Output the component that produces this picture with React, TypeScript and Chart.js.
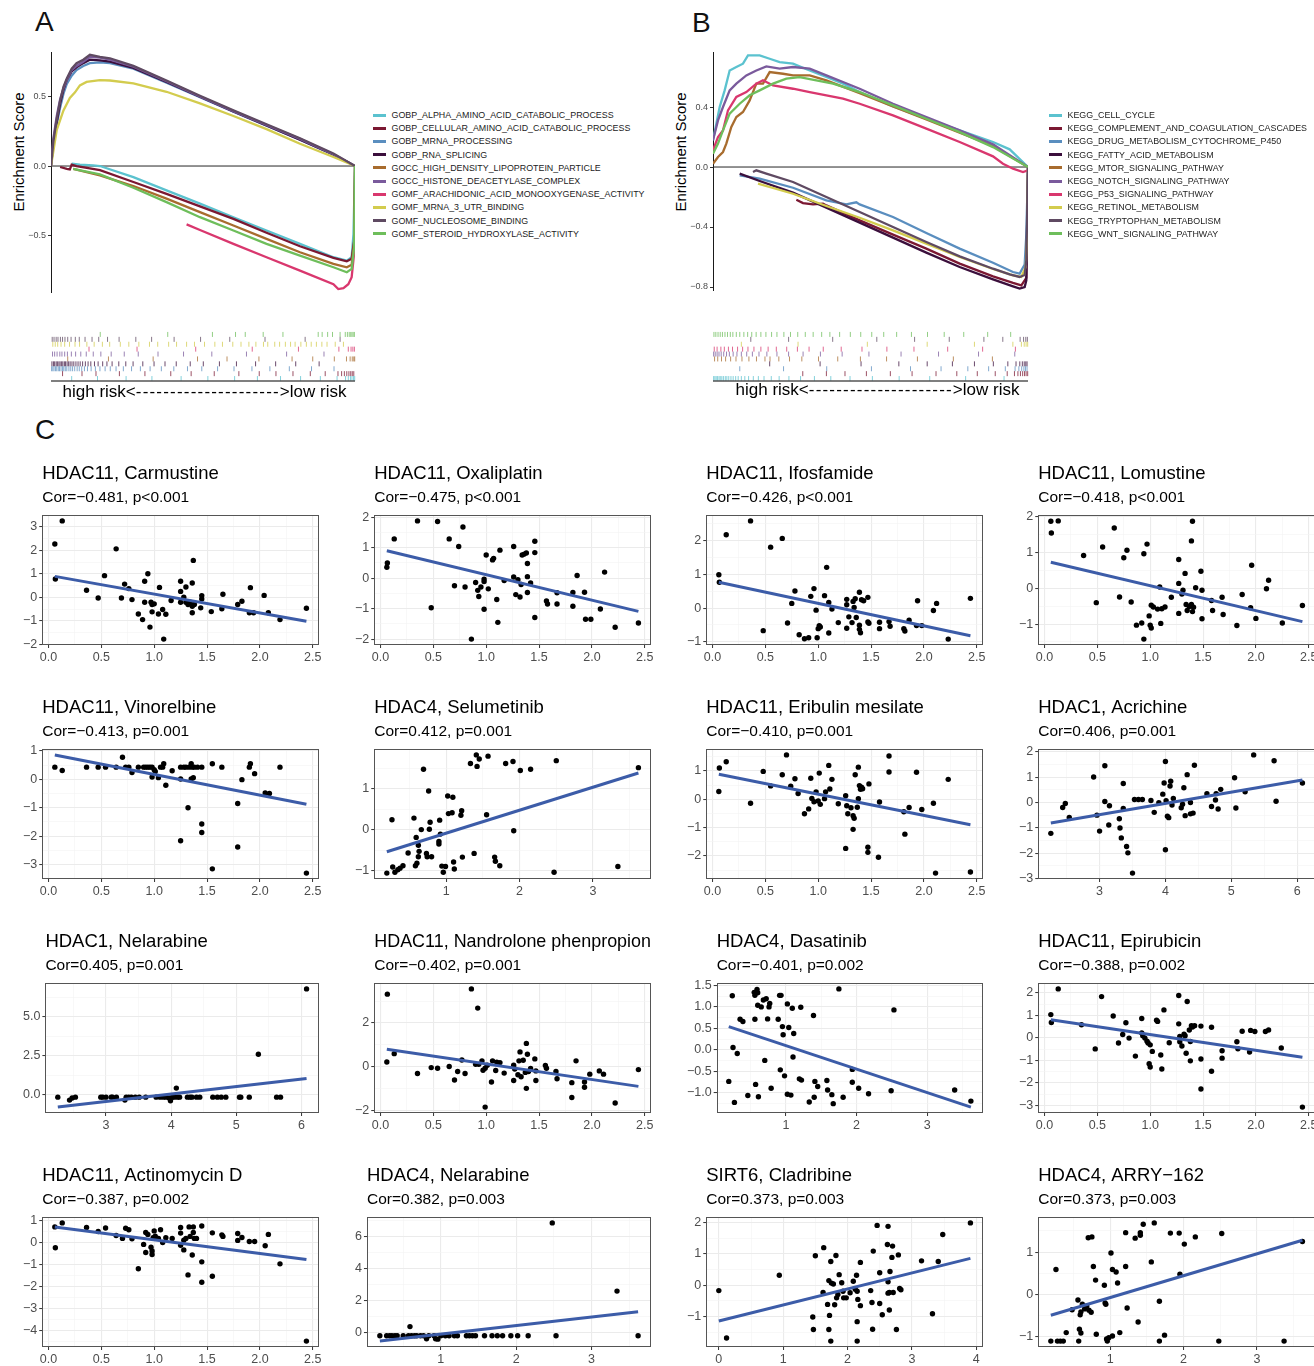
import React, { useEffect, useRef } from "react";
import { Chart, registerables } from "chart.js";
Chart.register(...registerables);

const FONT = '"Liberation Sans", Arial, Helvetica, sans-serif';
const MINUS = "\u2212";
const fmt = (s: string) => s.replace("-", MINUS);

// ---------- Panel A / B : gene set names and colours ----------
const setColors = ["#5BC2CF", "#7B1832", "#5A8EBF", "#3B0F3C", "#A86C2E", "#7A5A9C", "#D9376E", "#D3CC4E", "#5F4A62", "#6EBE5B"];
const goSets = [
  "GOBP_ALPHA_AMINO_ACID_CATABOLIC_PROCESS",
  "GOBP_CELLULAR_AMINO_ACID_CATABOLIC_PROCESS",
  "GOBP_MRNA_PROCESSING",
  "GOBP_RNA_SPLICING",
  "GOCC_HIGH_DENSITY_LIPOPROTEIN_PARTICLE",
  "GOCC_HISTONE_DEACETYLASE_COMPLEX",
  "GOMF_ARACHIDONIC_ACID_MONOOXYGENASE_ACTIVITY",
  "GOMF_MRNA_3_UTR_BINDING",
  "GOMF_NUCLEOSOME_BINDING",
  "GOMF_STEROID_HYDROXYLASE_ACTIVITY",
];
const keggSets = [
  "KEGG_CELL_CYCLE",
  "KEGG_COMPLEMENT_AND_COAGULATION_CASCADES",
  "KEGG_DRUG_METABOLISM_CYTOCHROME_P450",
  "KEGG_FATTY_ACID_METABOLISM",
  "KEGG_MTOR_SIGNALING_PATHWAY",
  "KEGG_NOTCH_SIGNALING_PATHWAY",
  "KEGG_P53_SIGNALING_PATHWAY",
  "KEGG_RETINOL_METABOLISM",
  "KEGG_TRYPTOPHAN_METABOLISM",
  "KEGG_WNT_SIGNALING_PATHWAY",
];

// running enrichment score, [rank % , ES]
const esA_alphaAmino = [[6.8, 0.017], [9.5, 0.01], [13.9, 0.005], [16.1, 0.0], [27.1, -0.08], [38.0, -0.175], [49.0, -0.27], [60.0, -0.368], [70.9, -0.464], [81.9, -0.56], [92.9, -0.656], [97.3, -0.68], [98.9, -0.655], [99.5, -0.49], [100, 0]];
const esA_cellAmino = [[3.0, -0.007], [5.2, -0.02], [6.2, -0.024], [6.8, 0.01], [8.4, 0.0], [16.1, -0.03], [27.1, -0.115], [38.0, -0.2], [49.0, -0.29], [60.0, -0.38], [70.9, -0.48], [81.9, -0.577], [92.9, -0.66], [97.3, -0.685], [98.9, -0.667], [99.7, -0.54], [100, 0]];
const esA_mrnaProc = [[0, 0], [0.8, 0.15], [1.9, 0.3], [3.0, 0.42], [4.1, 0.52], [5.2, 0.59], [6.8, 0.65], [8.4, 0.69], [10.6, 0.72], [12.8, 0.74], [16.1, 0.745], [19.4, 0.74], [27.1, 0.7], [38.0, 0.6], [49.0, 0.495], [60.0, 0.39], [70.9, 0.29], [81.9, 0.19], [92.9, 0.082], [100, 0]];
const esA_rnaSplice = [[0, 0], [0.8, 0.17], [1.9, 0.32], [3.0, 0.45], [4.1, 0.55], [5.2, 0.62], [6.8, 0.68], [8.4, 0.71], [10.6, 0.74], [12.8, 0.765], [16.1, 0.76], [19.4, 0.75], [27.1, 0.705], [38.0, 0.605], [49.0, 0.498], [60.0, 0.393], [70.9, 0.292], [81.9, 0.19], [92.9, 0.083], [100, 0]];
const esA_hdl = [[7.3, -0.02], [16.1, -0.067], [27.1, -0.144], [38.0, -0.235], [49.0, -0.332], [60.0, -0.428], [70.9, -0.524], [81.9, -0.62], [92.9, -0.704], [97.3, -0.728], [98.9, -0.71], [99.7, -0.56], [100, 0]];
const esA_histone = [[0, 0], [0.8, 0.2], [1.9, 0.36], [3.0, 0.48], [4.1, 0.56], [5.2, 0.62], [6.8, 0.69], [8.4, 0.72], [10.6, 0.75], [12.8, 0.785], [16.1, 0.78], [19.4, 0.765], [27.1, 0.715], [38.0, 0.61], [49.0, 0.5], [60.0, 0.395], [70.9, 0.295], [81.9, 0.195], [92.9, 0.085], [100, 0]];
const esA_arachidonic = [[44.6, -0.42], [49.0, -0.46], [60.0, -0.56], [70.9, -0.656], [81.9, -0.752], [92.9, -0.85], [94.5, -0.885], [96.2, -0.878], [97.8, -0.85], [98.9, -0.8], [99.7, -0.63], [100, -0.44]];
const esA_utr = [[0, 0], [1.9, 0.26], [4.1, 0.4], [6.2, 0.49], [7.9, 0.53], [9.5, 0.58], [11.7, 0.605], [16.1, 0.618], [19.4, 0.615], [27.1, 0.594], [38.0, 0.534], [49.0, 0.45], [60.0, 0.36], [70.9, 0.265], [81.9, 0.16], [92.9, 0.065], [100, 0]];
const esA_nucleosome = [[0, 0], [0.8, 0.18], [1.9, 0.34], [3.0, 0.47], [4.1, 0.57], [5.2, 0.63], [6.8, 0.7], [8.4, 0.74], [10.6, 0.765], [12.8, 0.8], [16.1, 0.785], [19.4, 0.775], [27.1, 0.72], [38.0, 0.615], [49.0, 0.505], [60.0, 0.4], [70.9, 0.3], [81.9, 0.2], [92.9, 0.09], [100, 0]];
const esA_steroid = [[7.3, -0.02], [16.1, -0.06], [27.1, -0.156], [38.0, -0.26], [49.0, -0.368], [60.0, -0.464], [70.9, -0.56], [81.9, -0.644], [92.9, -0.728], [97.3, -0.764], [98.9, -0.74], [99.7, -0.59], [100, 0]];

const esB_cellCycle = [[0, 0.178], [1.06, 0.289], [2.12, 0.4], [3.7, 0.511], [5.29, 0.644], [7.41, 0.667], [9.52, 0.689], [11.11, 0.744], [14.81, 0.744], [17.99, 0.722], [21.16, 0.7], [25.4, 0.689], [30.69, 0.644], [35.98, 0.6], [41.27, 0.556], [46.56, 0.5], [57.14, 0.404], [67.72, 0.322], [78.31, 0.244], [88.89, 0.167], [94.18, 0.118], [100, 0]];
const esB_complement = [[26.46, -0.218], [28.57, -0.24], [31.75, -0.249], [34.92, -0.244], [35.98, -0.256], [46.56, -0.356], [57.14, -0.451], [67.72, -0.544], [78.31, -0.644], [88.89, -0.729], [95.24, -0.773], [97.88, -0.789], [99.47, -0.74], [100, 0]];
const esB_drug = [[8.47, -0.056], [14.81, -0.078], [25.4, -0.138], [35.98, -0.222], [42.3, -0.249], [45.5, -0.235], [46.56, -0.249], [57.14, -0.333], [67.72, -0.44], [78.31, -0.544], [88.89, -0.638], [95.24, -0.7], [97.35, -0.711], [98.94, -0.65], [99.47, -0.45], [100, 0]];
const esB_fatty = [[8.47, -0.044], [14.81, -0.093], [25.4, -0.171], [35.98, -0.271], [46.56, -0.371], [57.14, -0.471], [67.72, -0.571], [78.31, -0.667], [88.89, -0.749], [95.24, -0.796], [97.35, -0.811], [98.94, -0.8], [99.47, -0.756], [100, 0]];
const esB_mtor = [[0, 0.022], [1.59, 0.067], [3.17, 0.1], [4.23, 0.156], [5.82, 0.267], [7.41, 0.333], [9.52, 0.367], [11.64, 0.444], [13.76, 0.556], [15.87, 0.556], [17.99, 0.633], [22.22, 0.622], [25.4, 0.611], [30.69, 0.611], [35.98, 0.578], [46.56, 0.493], [57.14, 0.404], [67.72, 0.318], [78.31, 0.229], [88.89, 0.14], [100, 0]];
const esB_notch = [[0, 0.178], [1.59, 0.311], [3.17, 0.4], [5.29, 0.511], [7.41, 0.556], [10.58, 0.611], [13.76, 0.644], [16.93, 0.671], [21.16, 0.656], [25.4, 0.667], [30.69, 0.656], [35.98, 0.611], [41.27, 0.567], [46.56, 0.522], [57.14, 0.422], [67.72, 0.333], [78.31, 0.244], [88.89, 0.151], [100, 0]];
const esB_p53 = [[0, 0.111], [1.59, 0.2], [3.17, 0.244], [4.76, 0.378], [7.41, 0.467], [10.58, 0.5], [13.76, 0.556], [15.87, 0.578], [19.05, 0.544], [25.4, 0.522], [30.69, 0.5], [35.98, 0.478], [41.27, 0.456], [46.56, 0.422], [57.14, 0.344], [67.72, 0.256], [78.31, 0.167], [88.89, 0.071], [92.06, 0.022], [95.24, -0.011], [98.41, -0.033], [100, -0.022]];
const esB_retinol = [[14.29, -0.111], [25.4, -0.178], [35.98, -0.26], [46.56, -0.338], [57.14, -0.422], [67.72, -0.511], [78.31, -0.6], [88.89, -0.68], [95.24, -0.722], [97.88, -0.733], [99.26, -0.667], [99.79, -0.444], [100, 0]];
const esB_tryptophan = [[12.7, -0.033], [13.76, -0.022], [16.93, -0.044], [25.4, -0.1], [35.98, -0.2], [46.56, -0.3], [57.14, -0.4], [67.72, -0.5], [78.31, -0.596], [88.89, -0.678], [94.18, -0.716], [97.35, -0.733], [98.94, -0.72], [99.47, -0.62], [100, 0]];
const esB_wnt = [[0, 0.089], [1.59, 0.156], [3.17, 0.244], [5.29, 0.356], [8.47, 0.422], [11.64, 0.478], [14.81, 0.511], [19.05, 0.556], [23.28, 0.589], [27.51, 0.6], [32.8, 0.578], [38.1, 0.556], [46.56, 0.5], [57.14, 0.411], [67.72, 0.322], [78.31, 0.233], [88.89, 0.133], [100, 0]];

// rug: positions (rank %) of the gene-set members
const rugA_alphaAmino = [6.8, 15.3, 24.7, 33.2, 42.8, 51.6, 60.4, 67.9, 75.5, 82.1, 88.6, 94.1, 96.9, 97.8, 98.5, 99.0, 99.5, 99.9];
const rugA_cellAmino = [3.8, 10.2, 14.8, 22.5, 30.9, 39.4, 46.1, 53.7, 61.8, 68.5, 74.0, 79.6, 85.3, 90.2, 94.4, 95.6, 96.5, 97.3, 98.0, 98.6, 99.1, 99.6];
const rugA_mrnaProc = [0.2, 0.6, 1.0, 1.5, 1.9, 2.4, 2.8, 3.3, 3.8, 4.2, 4.7, 5.2, 5.9, 6.5, 7.1, 7.8, 8.6, 9.3, 10.1, 11.0, 12.0, 13.2, 14.6, 16.1, 17.8, 19.5, 21.4, 23.8, 26.5, 29.4, 32.6, 36.3, 40.4, 44.9, 49.6, 54.8, 60.2, 66.1, 72.0, 78.4, 85.7, 93.1];
const rugA_rnaSplice = [0.3, 0.8, 1.2, 1.7, 2.1, 2.6, 3.0, 3.5, 3.9, 4.4, 4.8, 5.3, 5.8, 6.3, 6.9, 7.5, 8.2, 8.9, 9.6, 10.4, 11.3, 12.2, 13.1, 14.3, 15.5, 17.0, 18.4, 20.1, 22.3, 24.6, 27.0, 30.2, 33.9, 37.5, 41.2, 45.8, 50.1, 55.4, 61.0, 67.3, 73.9, 80.5, 88.2];
const rugA_hdl = [5.5, 18.9, 33.6, 48.2, 57.9, 68.4, 79.3, 86.1, 93.2, 97.2, 98.4, 99.1, 99.6, 99.9];
const rugA_histone = [0.5, 1.2, 2.0, 2.9, 3.6, 4.5, 5.4, 6.7, 8.1, 9.8, 11.6, 13.9, 16.4, 19.8, 24.1, 28.7, 35.2, 43.6, 52.9, 64.3, 77.5, 89.8];
const rugA_arachidonic = [12.5, 28.3, 47.6, 66.2, 81.4, 94.7, 97.8, 98.7, 99.3, 99.8];
const rugA_utr = [0.6, 1.4, 2.2, 3.3, 4.5, 6.1, 7.9, 9.4, 11.8, 14.2, 16.9, 19.3, 22.8, 25.6, 28.9, 32.4, 35.1, 38.7, 41.3, 44.6, 47.2, 50.5, 53.9, 56.4, 59.8, 62.5, 65.1, 67.4, 69.9, 71.3, 73.6, 75.2, 77.1, 78.8, 80.3, 82.2, 84.0, 85.6, 87.3, 89.1, 90.8, 93.5, 96.2];
const rugA_nucleosome = [0.4, 1.0, 1.7, 2.3, 3.1, 3.8, 4.6, 5.5, 6.6, 8.0, 9.3, 11.2, 13.5, 15.7, 18.6, 22.4, 27.9, 33.1, 40.5, 49.2, 58.8, 70.4, 83.6, 95.1];
const rugA_steroid = [16.2, 38.4, 53.1, 60.7, 63.9, 69.8, 76.3, 87.9, 89.2, 91.0, 92.6, 95.1, 96.8, 97.5, 98.1, 98.6, 99.0, 99.4, 99.8];

const rugB_cellCycle = [0.2, 0.6, 1.0, 1.4, 1.9, 2.3, 2.8, 3.3, 3.9, 4.4, 5.0, 5.7, 6.4, 7.2, 8.0, 9.0, 10.1, 11.3, 12.8, 14.4, 16.2, 18.5, 21.0, 24.1, 27.8, 32.2, 37.4, 43.5, 50.6, 59.1, 68.8, 80.2, 92.4];
const rugB_complement = [28.5, 36.0, 41.9, 48.7, 56.3, 63.2, 70.8, 77.4, 83.9, 89.6, 93.4, 95.7, 96.8, 97.6, 98.3, 98.9, 99.4, 99.9];
const rugB_drug = [8.5, 22.4, 36.1, 50.3, 62.7, 72.4, 80.9, 87.5, 92.8, 95.9, 97.1, 98.0, 98.7, 99.2, 99.7];
const rugB_fatty = [18.0, 34.0, 47.0, 59.0, 68.0, 76.0, 83.0, 89.0, 93.6, 96.2, 97.4, 98.2, 98.8, 99.3, 99.7];
const rugB_mtor = [0.5, 1.5, 2.7, 4.0, 5.6, 7.3, 9.2, 11.4, 13.8, 16.5, 18.1, 20.9, 24.3, 28.2, 33.5, 39.6, 46.8, 55.1, 64.9, 76.3, 88.7];
const rugB_notch = [0.2, 0.7, 1.3, 1.9, 2.6, 3.4, 4.3, 5.2, 6.4, 7.6, 9.0, 10.7, 12.5, 14.6, 17.1, 20.3, 24.0, 28.6, 34.1, 41.0, 49.5, 59.7, 71.6, 84.3, 95.8];
const rugB_p53 = [0.4, 1.3, 2.5, 3.6, 4.9, 6.2, 7.8, 9.4, 11.1, 13.0, 15.2, 17.5, 20.1, 23.4, 26.8, 30.5, 35.0, 40.7, 47.3, 55.2, 63.8, 74.5, 85.6, 96.0];
const rugB_retinol = [9.0, 27.0, 49.0, 68.0, 83.0, 95.2, 97.9, 98.8, 99.4, 99.9];
const rugB_tryptophan = [12.0, 24.0, 38.0, 52.0, 64.0, 75.0, 86.0, 92.0, 97.5, 98.6, 99.3, 99.8];
const rugB_wnt = [0.3, 0.9, 1.6, 2.3, 3.0, 3.8, 4.6, 5.5, 6.3, 7.4, 8.5, 9.8, 11.0, 12.3, 13.7, 15.2, 16.8, 18.6, 20.3, 22.5, 24.6, 26.9, 29.3, 31.8, 34.5, 37.1, 40.2, 43.6, 46.9, 50.4, 54.2, 58.3, 63.0, 68.1, 73.4, 79.6, 87.2, 94.5];

const esA = [esA_alphaAmino, esA_cellAmino, esA_mrnaProc, esA_rnaSplice, esA_hdl, esA_histone, esA_arachidonic, esA_utr, esA_nucleosome, esA_steroid];
const esB = [esB_cellCycle, esB_complement, esB_drug, esB_fatty, esB_mtor, esB_notch, esB_p53, esB_retinol, esB_tryptophan, esB_wnt];
const rugA = [rugA_alphaAmino, rugA_cellAmino, rugA_mrnaProc, rugA_rnaSplice, rugA_hdl, rugA_histone, rugA_arachidonic, rugA_utr, rugA_nucleosome, rugA_steroid];
const rugB = [rugB_cellCycle, rugB_complement, rugB_drug, rugB_fatty, rugB_mtor, rugB_notch, rugB_p53, rugB_retinol, rugB_tryptophan, rugB_wnt];
const esTicksA = ["-0.5", "0.0", "0.5"];
const esTicksB = ["-0.8", "-0.4", "0.0", "0.4"];

// ---------- Panel C : drug sensitivity scatter data [expression, IC50 z] ----------
const xTicksHDAC11 = ["0.0", "0.5", "1.0", "1.5", "2.0", "2.5"];
const xTicksHDAC4 = ["1", "2", "3"];
const xTicksHDAC1 = ["3", "4", "5", "6"];
const xTicksSIRT6 = ["0", "1", "2", "3", "4"];

const carmustinePts = [[0.06, 2.27], [0.065, 0.78], [0.13, 3.25], [0.36, 0.3], [0.47, -0.03], [0.53, 0.92], [0.64, 2.06], [0.69, -0.03], [0.72, 0.56], [0.76, 0.37], [0.79, -0.1], [0.85, -0.71], [0.89, -0.95], [0.91, 0.68], [0.91, -0.21], [0.94, 1.0], [0.96, -1.27], [0.97, -0.21], [0.98, -0.62], [0.98, -0.31], [1.0, -0.28], [1.04, -0.71], [1.05, 0.42], [1.08, -0.52], [1.09, -1.78], [1.11, -0.72], [1.16, -0.14], [1.25, 0.68], [1.25, 0.25], [1.25, -0.21], [1.28, 0.0], [1.3, 0.44], [1.3, -0.21], [1.32, -0.31], [1.34, -0.21], [1.36, 0.61], [1.36, -0.38], [1.36, -0.66], [1.37, 1.57], [1.38, -0.31], [1.44, -0.45], [1.45, 0.07], [1.45, -0.07], [1.54, -0.61], [1.64, -0.49], [1.65, 0.13], [1.79, -0.31], [1.83, -0.17], [1.9, -0.66], [1.91, 0.41], [1.94, -0.66], [2.04, 0.08], [2.08, -0.66], [2.19, -0.95], [2.44, -0.47]];
const carmustineFit = [0.89, -1.02];
const oxaliplatinPts = [[0.06, 0.36], [0.065, 0.5], [0.13, 1.29], [0.35, 1.88], [0.48, -0.97], [0.54, 1.86], [0.65, 1.29], [0.7, -0.25], [0.74, 1.04], [0.78, 1.68], [0.8, -0.29], [0.86, -2.0], [0.9, -0.14], [0.92, -0.4], [0.93, -0.6], [0.95, -0.29], [0.98, -0.03], [0.98, -0.11], [1.0, 0.76], [0.98, -1.02], [1.02, -0.35], [1.06, 0.6], [1.07, 0.65], [1.1, -0.7], [1.11, -1.45], [1.13, 0.92], [1.17, -0.08], [1.26, 1.04], [1.26, 0.04], [1.28, -0.54], [1.3, -0.05], [1.32, -0.62], [1.33, -0.21], [1.34, 0.76], [1.36, 0.79], [1.38, 0.83], [1.39, -0.47], [1.39, 0.48], [1.39, 0.05], [1.42, -0.16], [1.46, 0.84], [1.46, 1.21], [1.46, -1.29], [1.57, -0.75], [1.58, -0.85], [1.67, -0.48], [1.67, -0.85], [1.82, -0.92], [1.82, -0.47], [1.86, 0.09], [1.93, -0.46], [1.94, -1.35], [1.99, -1.35], [2.08, -1.01], [2.12, 0.2], [2.22, -1.61], [2.44, -1.47]];
const oxaliplatinFit = [0.9, -1.09];
const ifosfamidePts = [[0.06, 0.99], [0.065, 0.77], [0.13, 2.18], [0.36, 2.59], [0.48, -0.67], [0.55, 1.81], [0.66, 2.07], [0.71, -0.44], [0.75, 0.14], [0.78, 0.51], [0.82, -0.79], [0.87, -0.91], [0.91, -0.88], [0.93, 0.35], [0.96, 0.58], [0.98, -0.06], [0.99, -0.88], [1.0, -0.61], [1.01, -0.52], [1.02, -0.56], [1.06, 0.37], [1.08, 1.21], [1.1, 0.17], [1.1, -0.74], [1.13, -0.03], [1.19, -0.43], [1.27, 0.26], [1.27, -0.6], [1.27, 0.1], [1.29, -0.26], [1.32, -0.43], [1.33, 0.2], [1.34, 0.02], [1.35, 0.28], [1.36, -0.28], [1.39, -0.51], [1.39, 0.47], [1.39, -0.63], [1.4, -0.73], [1.41, 0.25], [1.43, 0.22], [1.47, 0.32], [1.47, -0.41], [1.48, -0.45], [1.58, -0.42], [1.58, -0.61], [1.67, -0.4], [1.68, -0.54], [1.81, -0.61], [1.82, -0.68], [1.86, -0.36], [1.93, -0.52], [1.94, 0.22], [1.98, -0.52], [2.09, -0.07], [2.12, 0.14], [2.23, -0.92], [2.44, 0.29]];
const ifosfamideFit = [0.77, -0.82];
const lomustinePts = [[0.06, 1.88], [0.065, 1.55], [0.13, 1.89], [0.37, 0.92], [0.49, -0.4], [0.55, 1.16], [0.66, 1.69], [0.71, -0.24], [0.75, 0.86], [0.78, 1.07], [0.82, -0.38], [0.87, -1.03], [0.92, -0.97], [0.94, -1.42], [0.94, 0.97], [0.97, 1.24], [0.99, -0.77], [1.0, -1.03], [1.01, -1.11], [1.01, -0.47], [1.03, -0.52], [1.07, -0.58], [1.09, 0.04], [1.1, -0.98], [1.11, -0.57], [1.14, -0.52], [1.2, -0.25], [1.27, 0.81], [1.27, 0.14], [1.27, -0.7], [1.3, -0.16], [1.31, -0.05], [1.33, 0.42], [1.34, -0.45], [1.35, -0.62], [1.37, -0.51], [1.39, 1.33], [1.39, -0.45], [1.4, -0.65], [1.4, 1.88], [1.41, -0.53], [1.43, 0.02], [1.48, 0.48], [1.49, -0.05], [1.49, -0.85], [1.58, -0.34], [1.59, -0.62], [1.68, -0.25], [1.69, -0.73], [1.82, -1.04], [1.87, -0.17], [1.95, -0.54], [1.96, 0.65], [2.0, -0.84], [2.1, -0.01], [2.12, 0.23], [2.25, -0.97], [2.44, -0.48]];
const lomustineFit = [0.73, -0.93];
const vinorelbinePts = [[0.06, 0.43], [0.13, 0.31], [0.36, 0.43], [0.47, 0.43], [0.54, 0.43], [0.64, 0.43], [0.7, 0.78], [0.73, 0.43], [0.76, 0.43], [0.79, 0.24], [0.85, 0.43], [0.9, 0.43], [0.92, 0.43], [0.94, 0.43], [0.96, 0.43], [0.98, 0.08], [0.98, 0.43], [1.0, 0.34], [1.01, 0.28], [1.04, 0.06], [1.06, 0.43], [1.08, 0.43], [1.09, 0.55], [1.11, -0.21], [1.17, 0.3], [1.25, 0.01], [1.25, 0.43], [1.25, -2.16], [1.28, 0.43], [1.3, 0.43], [1.32, -1.0], [1.33, 0.43], [1.35, 0.01], [1.35, 0.55], [1.36, 0.43], [1.37, 0.06], [1.38, 0.43], [1.41, 0.43], [1.45, -1.87], [1.45, -1.57], [1.45, 0.43], [1.55, -3.15], [1.55, 0.55], [1.64, 0.43], [1.79, -0.85], [1.79, -2.38], [1.83, -0.01], [1.9, 0.43], [1.91, 0.55], [1.95, 0.2], [2.05, -0.48], [2.09, -0.5], [2.19, 0.43], [2.44, -3.3]];
const vinorelbineFit = [0.86, -0.88];
const selumetinibPts = [[0.19, -1.05], [0.26, 0.25], [0.27, -0.9], [0.3, -1.03], [0.34, -0.97], [0.37, -0.93], [0.41, -0.87], [0.48, -0.56], [0.56, 0.29], [0.58, -0.87], [0.59, -0.18], [0.6, -0.81], [0.62, -0.37], [0.62, -0.65], [0.63, -0.52], [0.66, 0.01], [0.69, 1.48], [0.73, -0.57], [0.74, -0.65], [0.76, 0.95], [0.77, 0.02], [0.78, 0.19], [0.8, -0.65], [0.91, 0.24], [0.9, -0.34], [0.9, -0.28], [0.92, -0.1], [0.94, -0.88], [0.96, -1.03], [0.99, -0.89], [1.02, 0.83], [1.03, 0.4], [1.08, 0.42], [1.09, 0.8], [1.1, -0.78], [1.11, -0.95], [1.2, 0.36], [1.21, 0.47], [1.22, -0.66], [1.33, 1.62], [1.38, -0.57], [1.41, 1.83], [1.42, 1.55], [1.45, 1.73], [1.55, 0.37], [1.57, 1.8], [1.66, -0.66], [1.67, -0.76], [1.73, -0.87], [1.81, 1.62], [1.91, 1.67], [1.92, -0.02], [2.01, 1.45], [2.15, 1.48], [2.47, -1.03], [2.5, 1.69], [3.34, -0.89], [3.62, 1.52]];
const selumetinibFit = [-0.53, 1.39];
const eribulinPts = [[0.06, 0.27], [0.065, 1.1], [0.13, 1.32], [0.36, -0.14], [0.48, 0.98], [0.55, 0.47], [0.66, 0.86], [0.7, 1.56], [0.74, 0.46], [0.78, 0.72], [0.81, 0.2], [0.87, -0.51], [0.91, -0.34], [0.93, 0.74], [0.94, 0.03], [0.96, -0.09], [0.98, 0.26], [1.0, -0.06], [1.01, 0.92], [1.02, -0.18], [1.06, 0.02], [1.07, 0.26], [1.1, 1.19], [1.11, 0.36], [1.13, 0.7], [1.19, -0.16], [1.26, 0.12], [1.26, -1.73], [1.27, -0.23], [1.28, -0.51], [1.31, -0.3], [1.33, -0.58], [1.33, -1.06], [1.34, -0.67], [1.35, 0.86], [1.37, -0.28], [1.38, 1.13], [1.38, 0.02], [1.39, 0.48], [1.4, 0.35], [1.41, 0.42], [1.42, 0.37], [1.47, -1.87], [1.47, -1.69], [1.48, 0.54], [1.57, -2.04], [1.58, -0.1], [1.67, 0.96], [1.67, 1.52], [1.81, -0.44], [1.82, -1.23], [1.86, -0.29], [1.93, 0.95], [1.98, -0.36], [2.09, -0.14], [2.11, -2.6], [2.23, 0.7], [2.44, -2.56]];
const eribulinFit = [0.88, -0.9];
const acrichinePts = [[2.26, -1.22], [2.44, -0.2], [2.48, -0.04], [2.54, -0.59], [2.91, 1.01], [2.96, -0.5], [3.0, -1.13], [3.08, 1.45], [3.08, 0.04], [3.14, -0.89], [3.15, -0.13], [3.3, -0.64], [3.31, -1.01], [3.33, -1.4], [3.36, -0.24], [3.36, 0.75], [3.41, -1.74], [3.43, -1.99], [3.5, -2.79], [3.53, 0.12], [3.59, 0.12], [3.65, 0.12], [3.78, 0.08], [3.83, -0.39], [3.9, -0.01], [3.96, 0.33], [3.98, 0.77], [4.0, 1.62], [4.0, -1.87], [4.01, 0.07], [4.03, -0.54], [4.05, -0.6], [4.07, 0.65], [4.08, 0.84], [4.1, -0.1], [4.12, 0.16], [4.24, -0.21], [4.26, -0.07], [4.28, 0.58], [4.3, -0.52], [4.33, 1.1], [4.38, 0.0], [4.38, -0.45], [4.44, 1.47], [4.42, -0.42], [4.63, 0.35], [4.7, -0.16], [4.76, 0.1], [4.77, 0.35], [4.8, -0.26], [4.84, 0.52], [5.05, 0.98], [5.07, -0.22], [5.21, 0.42], [5.34, 1.88], [5.65, 1.65], [5.68, 0.05], [6.08, 0.77]];
const acrichineFit = [-0.81, 0.89];
const nelarabine1Pts = [[2.26, -0.15], [2.44, -0.34], [2.48, -0.21], [2.53, -0.15], [2.92, -0.15], [2.95, -0.15], [3.0, -0.15], [3.08, -0.15], [3.1, -0.15], [3.16, -0.15], [3.29, -0.34], [3.31, -0.15], [3.35, -0.15], [3.39, -0.15], [3.45, -0.15], [3.51, -0.15], [3.61, -0.15], [3.77, -0.15], [3.83, -0.15], [3.88, -0.15], [3.92, -0.15], [3.97, -0.21], [3.99, -0.38], [4.02, -0.15], [4.05, -0.15], [4.08, 0.43], [4.1, -0.15], [4.13, -0.15], [4.25, -0.15], [4.29, -0.15], [4.32, -0.15], [4.39, -0.15], [4.44, -0.15], [4.64, -0.15], [4.71, -0.15], [4.77, -0.15], [4.84, -0.15], [5.05, -0.15], [5.07, -0.15], [5.2, -0.15], [5.34, 2.6], [5.62, -0.15], [5.68, -0.15], [6.08, 6.8]];
const nelarabine1Fit = [-0.79, 1.04];
const nandrolonePts = [[0.06, 0.21], [0.065, 3.32], [0.13, 0.59], [0.35, -0.32], [0.48, -0.05], [0.54, -0.08], [0.65, 0.0], [0.7, -0.62], [0.73, -0.23], [0.77, 0.3], [0.8, -0.32], [0.86, 3.56], [0.9, 0.1], [0.92, 2.68], [0.93, 0.1], [0.96, 0.26], [0.97, -0.17], [0.99, -1.86], [0.99, -0.08], [1.01, 0.06], [1.05, -0.71], [1.06, 0.26], [1.09, -0.18], [1.1, 0.2], [1.13, 0.18], [1.17, -0.3], [1.26, 0.06], [1.26, -0.64], [1.27, -0.11], [1.3, -0.38], [1.31, 0.26], [1.32, 0.67], [1.33, -0.47], [1.35, 0.29], [1.37, -0.27], [1.38, -1.0], [1.38, 1.06], [1.39, 0.56], [1.4, -0.23], [1.42, -0.09], [1.46, 0.35], [1.47, -0.2], [1.47, -0.64], [1.56, 0.05], [1.57, -0.08], [1.66, -0.23], [1.67, -0.56], [1.81, -0.74], [1.81, -1.42], [1.85, 0.26], [1.93, -0.71], [1.93, -0.95], [1.98, -0.35], [2.07, -0.2], [2.11, -0.35], [2.22, -1.67], [2.44, -0.14]];
const nandroloneFit = [0.79, -0.91];
const dasatinibPts = [[0.19, -0.74], [0.24, 1.26], [0.25, 0.05], [0.27, -1.23], [0.31, -0.09], [0.35, 0.71], [0.39, 0.66], [0.46, -1.07], [0.55, 1.34], [0.56, 0.71], [0.56, 1.27], [0.57, -0.81], [0.59, 1.41], [0.6, 1.04], [0.6, 1.33], [0.61, -1.1], [0.65, 1.0], [0.68, 1.16], [0.7, -0.25], [0.72, 1.19], [0.74, 0.72], [0.76, 1.0], [0.77, 1.08], [0.79, -0.9], [0.89, 0.71], [0.91, 1.27], [0.92, -0.47], [0.93, 1.27], [0.95, 0.54], [0.96, 0.35], [0.98, -0.61], [1.02, 1.07], [1.02, -1.04], [1.04, 0.52], [1.07, -1.06], [1.09, 0.97], [1.1, -0.17], [1.11, 0.38], [1.19, -0.68], [1.22, -0.71], [1.21, 0.99], [1.39, 0.8], [1.41, -0.74], [1.45, -0.86], [1.33, -1.22], [1.4, -1.11], [1.58, -0.72], [1.59, -0.94], [1.65, -1.05], [1.67, -1.26], [1.75, 1.42], [1.81, -1.11], [1.94, -0.46], [1.94, -0.76], [2.03, -0.9], [2.17, -1.03], [2.49, -0.96], [2.53, 0.93], [3.39, -0.94], [3.62, -1.2]];
const dasatinibFit = [0.54, -1.34];
const epirubicinPts = [[0.06, 1.03], [0.065, 0.68], [0.13, 2.17], [0.35, 0.58], [0.48, -0.49], [0.54, 1.83], [0.65, 0.97], [0.7, -0.23], [0.74, 0.15], [0.77, 0.67], [0.8, -0.01], [0.86, -0.81], [0.92, 0.22], [0.92, 0.86], [0.93, 0.09], [0.95, -0.01], [0.97, -0.15], [0.98, -0.23], [0.99, -1.15], [1.0, -1.29], [1.0, -0.31], [1.02, -0.6], [1.06, 0.78], [1.07, 0.73], [1.1, -0.76], [1.11, -1.38], [1.13, 1.24], [1.18, -0.22], [1.27, 1.88], [1.27, 0.62], [1.28, 0.06], [1.28, -0.17], [1.3, -0.36], [1.32, 0.16], [1.33, 0.09], [1.34, -0.68], [1.35, 1.61], [1.37, 0.35], [1.38, -0.16], [1.38, -1.02], [1.39, 0.54], [1.4, 0.48], [1.42, 0.54], [1.48, 0.52], [1.48, -0.94], [1.48, -2.27], [1.58, 0.47], [1.58, -1.48], [1.68, -0.57], [1.68, -0.9], [1.82, -0.17], [1.83, -0.48], [1.87, 0.29], [1.94, -0.63], [1.95, 0.33], [1.99, 0.28], [2.09, 0.28], [2.12, 0.35], [2.24, -0.45], [2.44, -3.07]];
const epirubicinFit = [0.8, -0.86];
const actinomycinPts = [[0.06, 0.7], [0.065, -0.24], [0.13, 0.88], [0.36, 0.67], [0.47, 0.49], [0.54, 0.65], [0.64, 0.31], [0.7, 0.18], [0.73, 0.64], [0.76, 0.57], [0.79, 0.16], [0.85, -1.19], [0.9, -0.09], [0.92, -0.46], [0.92, 0.45], [0.94, 0.36], [0.97, -0.22], [0.98, -0.39], [0.98, -0.55], [0.99, 0.21], [1.0, 0.52], [1.01, 0.28], [1.04, 0.18], [1.06, 0.57], [1.08, -0.01], [1.11, 0.21], [1.17, 0.18], [1.25, -0.13], [1.25, 0.67], [1.25, 0.42], [1.28, 0.1], [1.28, -0.34], [1.3, 0.18], [1.32, -1.47], [1.33, 0.7], [1.34, 0.27], [1.36, -0.57], [1.37, 0.7], [1.37, 0.45], [1.38, 0.18], [1.4, 0.18], [1.45, -0.88], [1.45, -1.8], [1.45, 0.74], [1.55, -1.53], [1.55, 0.43], [1.64, 0.34], [1.65, 0.27], [1.79, 0.4], [1.79, 0.09], [1.83, 0.22], [1.9, 0.04], [1.95, 0.04], [2.05, -0.15], [2.08, 0.36], [2.19, -0.97], [2.44, -4.46]];
const actinomycinFit = [0.7, -0.77];
const nelarabine4Pts = [[0.19, -0.18], [0.28, -0.18], [0.32, -0.18], [0.35, -0.18], [0.39, -0.18], [0.42, -0.18], [0.5, -0.18], [0.57, -0.18], [0.59, 0.39], [0.61, -0.18], [0.65, -0.18], [0.68, -0.18], [0.73, -0.18], [0.77, -0.18], [0.81, -0.37], [0.84, -0.18], [0.91, -0.18], [0.93, -0.37], [0.96, -0.39], [1.0, -0.18], [1.06, -0.18], [1.11, -0.18], [1.18, -0.18], [1.22, -0.18], [1.34, -0.18], [1.38, -0.18], [1.42, -0.18], [1.46, -0.18], [1.58, -0.18], [1.68, -0.18], [1.75, -0.18], [1.82, -0.18], [1.93, -0.18], [2.02, -0.18], [2.16, -0.18], [2.48, 6.82], [2.53, -0.18], [3.34, 2.59], [3.62, -0.18]];
const nelarabine4Fit = [-0.51, 1.31];
const cladribinePts = [[0.0, -0.17], [0.12, -1.68], [0.94, 0.32], [1.46, -1.01], [1.47, -1.41], [1.5, 0.94], [1.62, -0.23], [1.63, 1.2], [1.69, -0.61], [1.71, 0.15], [1.71, -1.41], [1.72, -0.96], [1.74, -1.78], [1.74, 0.76], [1.75, 0.07], [1.78, 0.04], [1.8, -0.62], [1.82, 0.95], [1.83, -0.4], [1.85, -0.29], [1.87, 0.34], [1.91, 0.08], [1.93, -0.19], [1.94, -0.4], [1.98, -0.4], [2.04, -0.24], [2.09, 0.13], [2.12, -0.13], [2.14, 0.32], [2.15, -1.16], [2.15, -1.78], [2.15, -0.19], [2.16, -0.45], [2.2, 0.73], [2.2, -0.65], [2.36, -0.17], [2.38, -0.55], [2.39, -1.4], [2.4, 1.09], [2.46, 1.91], [2.5, 0.4], [2.5, -0.58], [2.54, -0.94], [2.63, 1.88], [2.62, 1.3], [2.63, 0.11], [2.63, -0.25], [2.65, -0.23], [2.65, -0.79], [2.66, 0.44], [2.69, 0.89], [2.7, 1.25], [2.71, -0.23], [2.76, -1.41], [2.79, 0.97], [2.81, -0.1], [2.83, -0.14], [3.15, 0.78], [3.32, -0.91], [3.41, 0.76], [3.48, 1.62], [3.91, 1.99]];
const cladribineFit = [-1.14, 0.86];
const arryPts = [[0.19, -1.1], [0.26, 0.59], [0.28, -1.1], [0.32, -1.1], [0.36, -1.1], [0.4, -0.9], [0.48, -0.36], [0.56, -0.13], [0.57, -1.1], [0.58, -0.82], [0.59, -0.48], [0.6, -0.41], [0.6, -0.91], [0.62, -0.23], [0.65, -0.34], [0.68, -0.27], [0.7, 1.34], [0.71, -0.37], [0.74, -0.42], [0.75, 1.36], [0.77, 0.66], [0.8, 0.34], [0.81, -0.94], [0.92, 0.22], [0.93, -0.2], [0.94, -0.23], [0.95, -1.05], [0.96, -1.1], [0.98, -1.02], [1.01, 0.98], [1.03, -0.98], [1.03, 0.59], [1.08, 0.53], [1.1, 0.27], [1.13, -0.9], [1.21, 0.66], [1.21, 1.46], [1.23, -0.32], [1.34, 1.33], [1.38, -0.65], [1.41, 1.46], [1.41, 1.4], [1.45, 1.66], [1.56, 0.77], [1.6, 1.69], [1.67, -0.16], [1.67, -1.1], [1.74, -0.96], [1.82, 1.45], [1.94, 1.45], [1.95, 0.48], [2.01, 1.19], [2.16, 1.36], [2.48, -1.1], [2.52, 1.44], [3.37, -1.1], [3.62, 1.25]];
const arryFit = [-0.49, 1.28];

const scatterSpecs = [
  { title: "HDAC11, Carmustine", sub: "Cor=-0.481, p<0.001", pts: carmustinePts, fit: carmustineFit, xt: xTicksHDAC11, yt: ["-2", "-1", "0", "1", "2", "3"] },
  { title: "HDAC11, Oxaliplatin", sub: "Cor=-0.475, p<0.001", pts: oxaliplatinPts, fit: oxaliplatinFit, xt: xTicksHDAC11, yt: ["-2", "-1", "0", "1", "2"] },
  { title: "HDAC11, Ifosfamide", sub: "Cor=-0.426, p<0.001", pts: ifosfamidePts, fit: ifosfamideFit, xt: xTicksHDAC11, yt: ["-1", "0", "1", "2"] },
  { title: "HDAC11, Lomustine", sub: "Cor=-0.418, p<0.001", pts: lomustinePts, fit: lomustineFit, xt: xTicksHDAC11, yt: ["-1", "0", "1", "2"] },
  { title: "HDAC11, Vinorelbine", sub: "Cor=-0.413, p=0.001", pts: vinorelbinePts, fit: vinorelbineFit, xt: xTicksHDAC11, yt: ["-3", "-2", "-1", "0", "1"] },
  { title: "HDAC4, Selumetinib", sub: "Cor=0.412, p=0.001", pts: selumetinibPts, fit: selumetinibFit, xt: xTicksHDAC4, yt: ["-1", "0", "1"] },
  { title: "HDAC11, Eribulin mesilate", sub: "Cor=-0.410, p=0.001", pts: eribulinPts, fit: eribulinFit, xt: xTicksHDAC11, yt: ["-2", "-1", "0", "1"] },
  { title: "HDAC1, Acrichine", sub: "Cor=0.406, p=0.001", pts: acrichinePts, fit: acrichineFit, xt: xTicksHDAC1, yt: ["-3", "-2", "-1", "0", "1", "2"] },
  { title: "HDAC1, Nelarabine", sub: "Cor=0.405, p=0.001", pts: nelarabine1Pts, fit: nelarabine1Fit, xt: xTicksHDAC1, yt: ["0.0", "2.5", "5.0"] },
  { title: "HDAC11, Nandrolone phenpropion", sub: "Cor=-0.402, p=0.001", pts: nandrolonePts, fit: nandroloneFit, xt: xTicksHDAC11, yt: ["-2", "0", "2"] },
  { title: "HDAC4, Dasatinib", sub: "Cor=-0.401, p=0.002", pts: dasatinibPts, fit: dasatinibFit, xt: xTicksHDAC4, yt: ["-1.0", "-0.5", "0.0", "0.5", "1.0", "1.5"] },
  { title: "HDAC11, Epirubicin", sub: "Cor=-0.388, p=0.002", pts: epirubicinPts, fit: epirubicinFit, xt: xTicksHDAC11, yt: ["-3", "-2", "-1", "0", "1", "2"] },
  { title: "HDAC11, Actinomycin D", sub: "Cor=-0.387, p=0.002", pts: actinomycinPts, fit: actinomycinFit, xt: xTicksHDAC11, yt: ["-4", "-3", "-2", "-1", "0", "1"] },
  { title: "HDAC4, Nelarabine", sub: "Cor=0.382, p=0.003", pts: nelarabine4Pts, fit: nelarabine4Fit, xt: xTicksHDAC4, yt: ["0", "2", "4", "6"] },
  { title: "SIRT6, Cladribine", sub: "Cor=0.373, p=0.003", pts: cladribinePts, fit: cladribineFit, xt: xTicksSIRT6, yt: ["-1", "0", "1", "2"] },
  { title: "HDAC4, ARRY-162", sub: "Cor=0.373, p=0.003", pts: arryPts, fit: arryFit, xt: xTicksHDAC4, yt: ["-1", "0", "1"] },
];

// ---------- helpers ----------
const isMaj = (maj: number[], v: any) => maj.some((m) => Math.abs(m - v) < 1e-9);
function withMinor(maj: number[], min: number, max: number) {
  const s = [...maj].sort((a, b) => a - b);
  const step = s[1] - s[0];
  const vals = s.slice();
  vals.push(s[0] - step / 2);
  for (const m of s) vals.push(m + step / 2);
  return vals.filter((v) => v >= min - 1e-9 && v <= max + 1e-9).sort((a, b) => a - b);
}

const framePlugin = {
  id: "frame",
  afterDatasetsDraw(chart: any) {
    const { ctx, chartArea: a } = chart;
    ctx.save();
    ctx.strokeStyle = "#555555";
    ctx.lineWidth = 1;
    ctx.strokeRect(Math.round(a.left) + 0.5, Math.round(a.top) + 0.5, Math.round(a.width) - 1, Math.round(a.height) - 1);
    ctx.restore();
  },
};

const baselinePlugin = {
  id: "baseline",
  afterDatasetsDraw(chart: any) {
    const { ctx, chartArea: a } = chart;
    ctx.save();
    ctx.strokeStyle = "#555555";
    ctx.lineWidth = 1.5;
    ctx.beginPath();
    ctx.moveTo(a.left, a.bottom);
    ctx.lineTo(a.right, a.bottom);
    ctx.stroke();
    ctx.restore();
  },
};

function ScatterPanel({ spec, left, top }: any) {
  const ref = useRef<HTMLCanvasElement>(null);
  useEffect(() => {
    const xs = spec.pts.map((p: number[]) => p[0]);
    const x0 = Math.min(...xs), x1 = Math.max(...xs);
    const ys = spec.pts.map((p: number[]) => p[1]).concat(spec.fit);
    const y0 = Math.min(...ys), y1 = Math.max(...ys);
    const xr = [x0 - 0.05 * (x1 - x0), x1 + 0.05 * (x1 - x0)];
    const yr = [y0 - 0.05 * (y1 - y0), y1 + 0.05 * (y1 - y0)];
    const axis = (labels: string[], r: number[]) => {
      const maj = labels.map(Number);
      return {
        type: "linear",
        bounds: "data",
        min: r[0],
        max: r[1],
        afterBuildTicks: (s: any) => {
          s.ticks = withMinor(maj, r[0], r[1]).map((v) => ({ value: v }));
        },
        ticks: {
          autoSkip: false,
          maxRotation: 0,
          padding: 2,
          color: "#4D4D4D",
          font: { family: FONT, size: 12.5 },
          callback: (v: number) => {
            const i = maj.findIndex((m) => Math.abs(m - v) < 1e-9);
            return i >= 0 ? fmt(labels[i]) : "";
          },
        },
        grid: {
          color: (c: any) => (isMaj(maj, c.tick && c.tick.value) ? "#EBEBEB" : "#F3F3F3"),
          lineWidth: (c: any) => (isMaj(maj, c.tick && c.tick.value) ? 1.1 : 0.6),
          tickColor: (c: any) => (isMaj(maj, c.tick && c.tick.value) ? "#333333" : "rgba(0,0,0,0)"),
          tickLength: 3,
          tickWidth: 1,
        },
        border: { display: false },
      };
    };
    const chart = new Chart(ref.current as HTMLCanvasElement, {
      type: "scatter",
      data: {
        datasets: [
          {
            data: spec.pts.map((p: number[]) => ({ x: p[0], y: p[1] })),
            pointRadius: 2.7,
            pointBackgroundColor: "#000000",
            pointBorderWidth: 0,
            order: 2,
          },
          {
            data: [
              { x: x0, y: spec.fit[0] },
              { x: x1, y: spec.fit[1] },
            ],
            showLine: true,
            borderColor: "#3C5CA8",
            borderWidth: 3,
            pointRadius: 0,
            order: 1,
          },
        ],
      } as any,
      options: {
        animation: false,
        responsive: false,
        maintainAspectRatio: false,
        events: [],
        layout: { padding: { left: 21, right: 13, top: 0, bottom: 22 } },
        plugins: {
          legend: { display: false },
          tooltip: { enabled: false },
          title: {
            display: true,
            text: spec.title.replace("-", MINUS),
            align: "start",
            fullSize: false,
            color: "#000000",
            font: { family: FONT, size: 18.5, weight: "normal" },
            padding: { top: 8, bottom: 0 },
          },
          subtitle: {
            display: true,
            text: fmt(spec.sub),
            align: "start",
            fullSize: false,
            color: "#000000",
            font: { family: FONT, size: 15.5, weight: "normal" },
            padding: { top: 3.6, bottom: 7.6 },
          },
        },
        scales: { x: axis(spec.xt, xr), y: axis(spec.yt, yr) },
      } as any,
      plugins: [framePlugin],
    });
    return () => chart.destroy();
  }, [spec]);
  return <canvas ref={ref} width={332} height={234} style={{ position: "absolute", left, top, width: 332, height: 234 }} />;
}

function EsChart({ left, width, axisW, padR, padB, yMin, yMax, tickLabels, curves }: any) {
  const ref = useRef<HTMLCanvasElement>(null);
  useEffect(() => {
    const maj = tickLabels.map(Number);
    const chart = new Chart(ref.current as HTMLCanvasElement, {
      type: "line",
      data: {
        datasets: [
          { data: [{ x: 0, y: 0 }, { x: 100, y: 0 }], borderColor: "#262626", borderWidth: 1, pointRadius: 0, order: 30 },
          ...curves.map((c: number[][], i: number) => ({
            data: c.map((p) => ({ x: p[0], y: p[1] })),
            borderColor: setColors[i],
            borderWidth: 2.3,
            pointRadius: 0,
            tension: 0,
            order: 20 - i,
          })),
        ],
      } as any,
      options: {
        animation: false,
        responsive: false,
        maintainAspectRatio: false,
        events: [],
        layout: { padding: { left: 0, right: padR, top: 52, bottom: padB } },
        plugins: { legend: { display: false }, tooltip: { enabled: false } },
        scales: {
          x: { type: "linear", min: 0, max: 100, display: false },
          y: {
            type: "linear",
            bounds: "data",
            min: yMin,
            max: yMax,
            afterFit: (s: any) => {
              s.width = axisW;
            },
            afterBuildTicks: (s: any) => {
              s.ticks = maj.map((v: number) => ({ value: v }));
            },
            ticks: {
              autoSkip: false,
              padding: 2,
              color: "#4D4D4D",
              font: { family: FONT, size: 9 },
              callback: (v: number) => {
                const i = maj.findIndex((m: number) => Math.abs(m - v) < 1e-9);
                return i >= 0 ? fmt(tickLabels[i]) : "";
              },
            },
            grid: { drawOnChartArea: false, drawTicks: true, tickLength: 3, tickColor: "#333333" },
            border: { display: true, color: "#1a1a1a", width: 1 },
          },
        },
      } as any,
    });
    return () => chart.destroy();
  }, []);
  return <canvas ref={ref} width={width} height={300} style={{ position: "absolute", left, top: 0, width, height: 300 }} />;
}

function RugChart({ left, width, padL, padR, rows }: any) {
  const ref = useRef<HTMLCanvasElement>(null);
  useEffect(() => {
    const chart = new Chart(ref.current as HTMLCanvasElement, {
      type: "scatter",
      data: {
        datasets: rows.map((hits: number[], i: number) => ({
          data: hits.map((x) => ({ x, y: i + 0.5 })),
          pointStyle: "line",
          pointRotation: 90,
          pointRadius: 2.5,
          pointBorderWidth: 1,
          pointBorderColor: setColors[i] + "C0",
          clip: false,
        })),
      } as any,
      options: {
        animation: false,
        responsive: false,
        maintainAspectRatio: false,
        events: [],
        layout: { padding: { left: padL, right: padR, top: 10, bottom: 4 } },
        plugins: { legend: { display: false }, tooltip: { enabled: false } },
        scales: {
          x: { type: "linear", min: 0, max: 100, display: false },
          y: { type: "linear", min: 0, max: 10, display: false },
        },
      } as any,
      plugins: [baselinePlugin],
    });
    return () => chart.destroy();
  }, []);
  return <canvas ref={ref} width={width} height={64} style={{ position: "absolute", left, top: 322, width, height: 64 }} />;
}

function Legend({ left, names }: any) {
  return (
    <>
      {names.map((n: string, i: number) => (
        <React.Fragment key={n}>
          <div style={{ position: "absolute", left, top: 115 + i * 13.2 - 1.5, width: 12.5, height: 3, background: setColors[i] }} />
          <div
            style={{
              position: "absolute",
              left: left + 18.5,
              top: 115 + i * 13.2,
              transform: "translateY(-50%)",
              fontSize: 8.9,
              lineHeight: "10px",
              color: "#222",
              whiteSpace: "nowrap",
            }}
          >
            {n}
          </div>
        </React.Fragment>
      ))}
    </>
  );
}

const PanelLabel = ({ text, left, top }: any) => (
  <div style={{ position: "absolute", left, top, fontSize: 28, lineHeight: "28px", color: "#111" }}>{text}</div>
);

const YTitle = ({ cx, cy }: any) => (
  <div
    style={{
      position: "absolute",
      left: cx,
      top: cy,
      transform: "translate(-50%, -50%) rotate(-90deg)",
      fontSize: 15,
      lineHeight: "15px",
      whiteSpace: "nowrap",
      color: "#000",
    }}
  >
    Enrichment Score
  </div>
);

const RiskLabel = ({ cx, top }: any) => (
  <div
    style={{
      position: "absolute",
      left: cx,
      top,
      transform: "translateX(-50%)",
      fontSize: 17,
      lineHeight: "17px",
      whiteSpace: "nowrap",
      color: "#000",
    }}
  >
    high risk&lt;<span style={{ letterSpacing: "1.2px" }}>---------------------</span>&gt;low risk
  </div>
);

export default function App() {
  const colLeft = [0, 332, 664, 996];
  return (
    <div
      style={{
        position: "absolute",
        left: 0,
        top: 0,
        width: 1314,
        height: 1366,
        overflow: "hidden",
        background: "#ffffff",
        fontFamily: FONT,
      }}
    >
      <PanelLabel text="A" left={35} top={8} />
      <PanelLabel text="B" left={692} top={9} />
      <PanelLabel text="C" left={35} top={416} />

      <YTitle cx={18} cy={152} />
      <EsChart left={0} width={370} axisW={51} padR={15} padB={8} yMin={-0.906} yMax={0.82} tickLabels={esTicksA} curves={esA} />
      <RugChart left={0} width={370} padL={51} padR={15} rows={rugA} />
      <RiskLabel cx={204.5} top={383} />
      <Legend left={373} names={goSets} />

      <YTitle cx={680} cy={152} />
      <EsChart left={660} width={390} axisW={53} padR={22} padB={10} yMin={-0.82} yMax={0.767} tickLabels={esTicksB} curves={esB} />
      <RugChart left={660} width={390} padL={53} padR={22} rows={rugB} />
      <RiskLabel cx={877.5} top={381} />
      <Legend left={1049} names={keggSets} />

      {scatterSpecs.map((s, i) => (
        <ScatterPanel key={s.title + i} spec={s} left={colLeft[i % 4]} top={455 + Math.floor(i / 4) * 234} />
      ))}
    </div>
  );
}
